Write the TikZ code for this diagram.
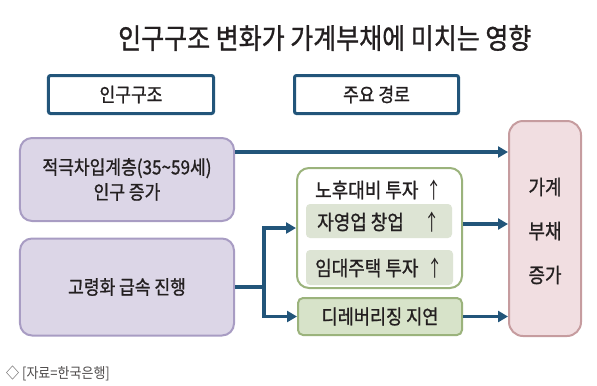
\documentclass[tikz,border=0pt]{standalone}
\usepackage{fontspec}
\setmainfont{Noto Sans CJK KR}[FakeStretch=0.88, FakeBold=1]
\newfontfamily\thinf{Noto Sans CJK KR}[FakeStretch=0.7]
\newfontfamily\srcf{Noto Sans CJK KR}[FakeStretch=0.9]
\usetikzlibrary{arrows.meta}
\definecolor{navy}{HTML}{22557A}
\definecolor{lavfill}{HTML}{DCD6E7}
\definecolor{lavline}{HTML}{A89CC3}
\definecolor{pinkfill}{HTML}{F1DEE1}
\definecolor{pinkline}{HTML}{C69C9F}
\definecolor{gline}{HTML}{9BB37C}
\definecolor{ginner}{HTML}{DDE4D4}
\definecolor{gfill}{HTML}{D7E3C9}
\definecolor{txt}{HTML}{231F20}
\tikzset{
  hdr/.style={draw=navy, line width=3bp, rounded corners=2bp, fill=white, text=txt, font=\fontsize{19.5}{22}\selectfont},
  lav/.style={draw=lavline, line width=2bp, rounded corners=12bp, fill=lavfill, text=txt, align=center, font=\fontsize{19.5}{25}\selectfont},
  pinkbox/.style={draw=pinkline, line width=2bp, rounded corners=14bp, fill=pinkfill, text=txt},
  gout/.style={draw=gline, line width=2bp, rounded corners=12bp, fill=white},
  gin/.style={fill=ginner, rounded corners=4bp, inner sep=0pt},
  glow/.style={draw=gline, line width=2bp, rounded corners=5bp, fill=gfill, text=txt, font=\fontsize{20}{22}\selectfont},
  lbl/.style={text=txt, font=\fontsize{20.5}{22}\selectfont, inner sep=0pt},
  uparr/.style={text=txt, font=\thinf\fontsize{22}{22}\selectfont, inner sep=0pt},
  arr/.style={draw=navy, line width=3.5bp, -{Triangle[length=10bp,width=11bp]}},
  ln/.style={draw=navy, line width=3.5bp},
}
\begin{document}
\begin{tikzpicture}[x=1bp,y=-1bp]
\useasboundingbox (0,0) rectangle (597,385);
\node[text=txt, font=\fontsize{28.5}{32}\selectfont, anchor=west, inner sep=0pt] (title) at (118,38) {인구구조 변화가 가계부채에 미치는 영향};
\node[hdr, minimum width=165bp, minimum height=38bp] (h1) at (131,94.5) {인구구조};
\node[hdr, minimum width=164bp, minimum height=38bp] (h2) at (376.5,94.5) {주요 경로};
\node[lav, minimum width=214bp, minimum height=83bp] (b1) at (127,179.5) {적극차입계층(35\char"7E 59세)\\인구 증가};
\node[lav, minimum width=214bp, minimum height=97bp] (b2) at (127,287) {고령화 급속 진행};
\node[pinkbox, minimum width=72bp, minimum height=215bp] (pk) at (545,228.5) {};
\node[lbl] (p1) at (545,187) {가계};
\node[lbl] (p2) at (545,231) {부채};
\node[lbl] (p3) at (545,275) {증가};
\node[gout, minimum width=165bp, minimum height=120bp] (go) at (379.5,228) {};
\node[lbl, anchor=west] (g0) at (315,190) {노후대비 투자};
\node[uparr] (g0a) at (434,190) {↑};
\node[gin, minimum width=146bp, minimum height=34bp] (g1) at (379,221) {};
\node[lbl, anchor=west] (g1t) at (317,222) {자영업 창업};
\node[uparr] (g1a) at (432,222) {↑};
\node[gin, minimum width=147bp, minimum height=35bp] (g2) at (379.5,267.5) {};
\node[lbl, anchor=west] (g2t) at (315,268) {임대주택 투자};
\node[uparr] (g2a) at (435,268) {↑};
\node[glow, minimum width=164bp, minimum height=37bp] (gl) at (380,316.5) {디레버리징 지연};
\node[text=txt!80, font=\srcf\fontsize{14.5}{16}\selectfont, anchor=west, inner sep=0pt] (src) at (6,373) {◇ [자료=한국은행]};
\coordinate (r1) at (0,152);
\draw[arr] (b1.east |- r1) -- (pk.west |- r1);
\draw[ln] (b2.east) -- ++(29,0) coordinate (j);
\draw[arr] (j) |- (go.west);
\draw[arr] (j) |- (gl.west);
\draw[arr] ([yshift=4bp]go.east) -- ([yshift=4bp]go.east -| pk.west);
\draw[arr] (gl.east) -- (gl.east -| pk.west);
\end{tikzpicture}
\end{document}
